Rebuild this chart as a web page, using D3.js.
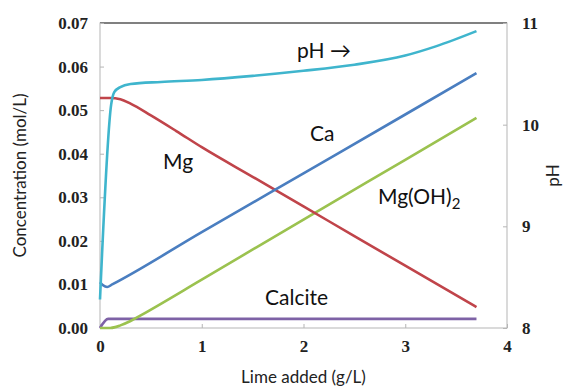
<!DOCTYPE html>
<html>
<head>
<meta charset="utf-8">
<script src="https://cdn.jsdelivr.net/npm/d3@7"></script>
<style>
  body { margin: 0; background: #fff; }
  svg { display: block; }
  .ttl { font-family: Lato, "Open Sans", sans-serif; font-size: 17px; fill: #222; }
  .lbl { font-family: Lato, "Open Sans", sans-serif; font-size: 21px; fill: #111; }
</style>
</head>
<body>
<svg id="chart"></svg>
<script>
// ── DATA ─────────────────────────────────────────────────────────────────
const phX   = [0, 0.11, 0.14, 0.2, 0.3, 0.6, 1.0, 1.5, 2.0, 2.5, 3.0, 3.3, 3.7];
const phY   = [8.28, 10.2, 10.32, 10.37, 10.40, 10.42, 10.44, 10.48, 10.53, 10.59, 10.68, 10.77, 10.92];

const caX   = [0, 0.03, 0.07, 0.12, 1.0, 2.0, 3.0, 3.7];
const caY   = [0.0105, 0.0098, 0.0094, 0.0100, 0.0220, 0.0355, 0.0490, 0.0585];

const mgX   = [0, 0.1, 0.2, 0.3, 0.5, 0.75, 1.0, 1.5, 2.0, 2.5, 3.0, 3.7];
const mgY   = [0.0528, 0.0528, 0.0525, 0.0515, 0.0488, 0.0452, 0.0415, 0.0347, 0.0279, 0.0211, 0.0143, 0.0048];

const mohX  = [0, 0.1, 0.15, 0.2, 0.3, 0.4, 1.0, 2.0, 3.0, 3.7];
const mohY  = [0, 0, 0.0002, 0.0006, 0.0016, 0.0029, 0.0111, 0.0249, 0.0386, 0.0482];

const calX  = [0, 0.08, 3.7];
const calY  = [0, 0.0021, 0.0021];

const xTicks  = [0, 1, 2, 3, 4];
const yTicks  = [0, 0.01, 0.02, 0.03, 0.04, 0.05, 0.06, 0.07];
const y2Ticks = [8, 9, 10, 11];

// ── DIMENSIONS ───────────────────────────────────────────────────────────
const W = 574, H = 387;
const margin = { top: 23, right: 67, bottom: 59, left: 100 };
const innerW = W - margin.left - margin.right;
const innerH = H - margin.top - margin.bottom;

const svg = d3.select("#chart").attr("width", W).attr("height", H);
const g = svg.append("g").attr("transform", `translate(${margin.left},${margin.top})`);

const x  = d3.scaleLinear().domain([0, 4]).range([0, innerW]);
const y  = d3.scaleLinear().domain([0, 0.07]).range([innerH, 0]);
const y2 = d3.scaleLinear().domain([8, 11]).range([innerH, 0]);

// ── FRAME & AXES ─────────────────────────────────────────────────────────
g.append("rect")
  .attr("width", innerW).attr("height", innerH)
  .attr("fill", "none").attr("stroke", "#b5b5b5").attr("stroke-width", 1);
g.append("line")
  .attr("x1", 0).attr("x2", innerW).attr("y1", 0).attr("y2", 0)
  .attr("stroke", "#808080").attr("stroke-width", 2);

const styleAxis = ax => {
  ax.attr("font-family", "'Liberation Serif', serif").attr("font-size", 17).attr("font-weight", "bold");
  ax.select(".domain").remove();
  ax.selectAll(".tick line").attr("stroke", "#b5b5b5");
  ax.selectAll(".tick text").attr("fill", "#222");
};

g.append("g")
  .attr("transform", `translate(0,${innerH})`)
  .call(d3.axisBottom(x).tickValues(xTicks).tickFormat(d3.format("d")).tickSizeInner(-4).tickPadding(12))
  .call(styleAxis);

g.append("g")
  .call(d3.axisLeft(y).tickValues(yTicks).tickFormat(d3.format(".2f")).tickSizeInner(-4).tickPadding(12))
  .call(styleAxis);

g.append("g")
  .attr("transform", `translate(${innerW},0)`)
  .call(d3.axisRight(y2).tickValues(y2Ticks).tickFormat(d3.format("d")).tickSizeInner(-4).tickPadding(15))
  .call(styleAxis);

// ── AXIS TITLES ──────────────────────────────────────────────────────────
svg.append("text").attr("class", "ttl")
  .attr("transform", `translate(26,${margin.top + innerH / 2}) rotate(-90)`)
  .attr("text-anchor", "middle").text("Concentration (mol/L)");
svg.append("text").attr("class", "ttl")
  .attr("transform", `translate(559,${margin.top + innerH / 2}) rotate(-90)`)
  .attr("text-anchor", "middle").text("pH");
svg.append("text").attr("class", "ttl")
  .attr("x", margin.left + innerW / 2).attr("y", 383)
  .attr("text-anchor", "middle").text("Lime added (g/L)");

// ── LINES ────────────────────────────────────────────────────────────────
const series = [
  { xs: calX, ys: calY, sc: y,  color: "#7e62a6" },
  { xs: mohX, ys: mohY, sc: y,  color: "#9bc24f" },
  { xs: mgX,  ys: mgY,  sc: y,  color: "#c0444a" },
  { xs: caX,  ys: caY,  sc: y,  color: "#4a7ec0" },
  { xs: phX,  ys: phY,  sc: y2, color: "#3fb5cd" },
];

series.forEach(s => {
  const pts = s.xs.map((v, i) => [v, s.ys[i]]);
  g.append("path")
    .datum(pts)
    .attr("fill", "none")
    .attr("stroke", s.color)
    .attr("stroke-width", 2.6)
    .attr("stroke-linejoin", "round")
    .attr("d", d3.line().x(d => x(d[0])).y(d => s.sc(d[1])).curve(d3.curveMonotoneX));
});

// ── LABELS ───────────────────────────────────────────────────────────────
const lbl = (tx, ty, t) => svg.append("text").attr("class", "lbl").attr("x", tx).attr("y", ty).text(t);
lbl(297, 58, "pH \u2192");
lbl(310, 141, "Ca");
lbl(163, 169, "Mg");
lbl(265, 305, "Calcite");
const moh = lbl(378, 204, "Mg(OH)");
moh.append("tspan").attr("dy", 5).attr("font-size", 15).text("2");
</script>
</body>
</html>
